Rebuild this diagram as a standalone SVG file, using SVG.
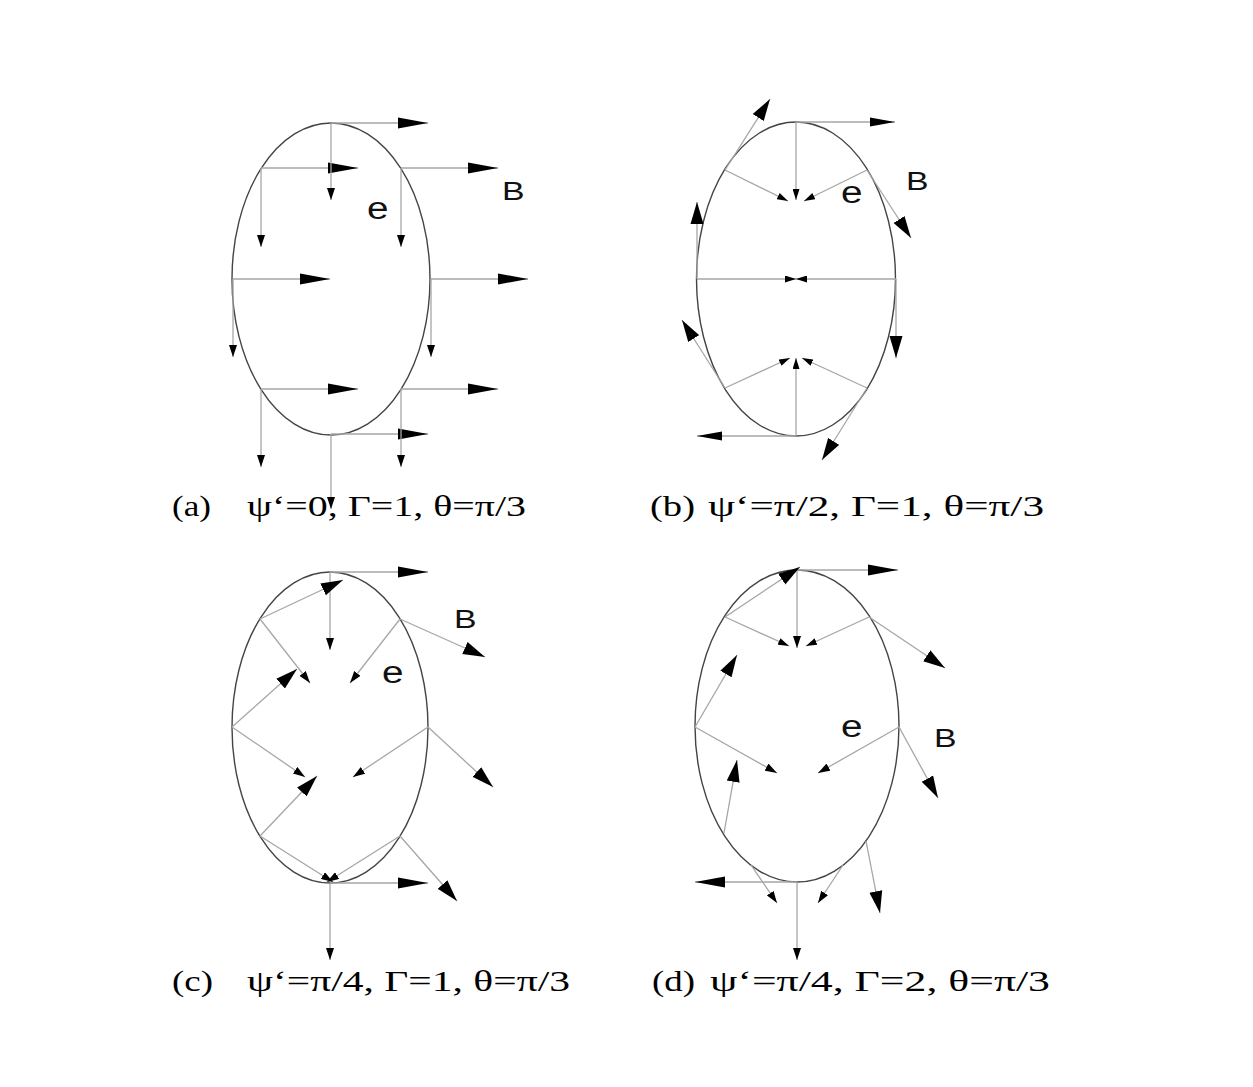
<svg xmlns="http://www.w3.org/2000/svg" width="1253" height="1087" viewBox="0 0 1253 1087">
<style>
.ell{fill:none;stroke:#444;stroke-width:1.4}
.s{stroke:#a6a6a6;stroke-width:1.3;fill:none}
.b{marker-end:url(#big)}
.m{marker-end:url(#med)}
.w{marker-end:url(#wide)}
.sm{marker-end:url(#small)}
.t{marker-end:url(#tiny)}
.lab{font-family:"Liberation Sans",Arial,sans-serif;fill:#111}
.cap{font-family:"Liberation Serif","Times New Roman",serif;font-size:29px;fill:#000}
</style>
<defs>
<marker id="big" markerUnits="userSpaceOnUse" markerWidth="30" markerHeight="12" viewBox="0 0 30 12" refX="30" refY="6" orient="auto"><path d="M0,0.5 L30,6 L0,11.5 Z" fill="#000"/></marker>
<marker id="med" markerUnits="userSpaceOnUse" markerWidth="25" markerHeight="10" viewBox="0 0 25 10" refX="25" refY="5" orient="auto"><path d="M0,0.5 L25,5 L0,9.5 Z" fill="#000"/></marker>
<marker id="wide" markerUnits="userSpaceOnUse" markerWidth="22" markerHeight="14" viewBox="0 0 22 14" refX="22" refY="7" orient="auto"><path d="M0,0.5 L22,7 L0,13.5 Z" fill="#000"/></marker>
<marker id="small" markerUnits="userSpaceOnUse" markerWidth="12" markerHeight="8" viewBox="0 0 12 8" refX="12" refY="4" orient="auto"><path d="M0,0 L12,4 L0,8 Z" fill="#000"/></marker>
<marker id="tiny" markerUnits="userSpaceOnUse" markerWidth="11" markerHeight="7" viewBox="0 0 11 7" refX="11" refY="3.5" orient="auto"><path d="M0,0 L11,3.5 L0,7 Z" fill="#000"/></marker>
</defs>
<rect width="1253" height="1087" fill="#fff"/>

<!-- Panel (a) -->
<g id="panel-a">
<g id="a-ellipse"><ellipse class="ell" cx="331" cy="279" rx="99" ry="156"/></g>
<g id="a-connectors">
<line class="s b" x1="331" y1="123" x2="428" y2="123"/>
<line class="s b" x1="261" y1="168" x2="358" y2="168"/>
<line class="s b" x1="401" y1="168" x2="498" y2="168"/>
<line class="s b" x1="233" y1="279" x2="330" y2="279"/>
<line class="s b" x1="431" y1="279" x2="528" y2="279"/>
<line class="s b" x1="261" y1="389" x2="358" y2="389"/>
<line class="s b" x1="401" y1="389" x2="498" y2="389"/>
<line class="s b" x1="331" y1="434" x2="428" y2="434"/>
<line class="s sm" x1="331" y1="123" x2="331" y2="200"/>
<line class="s sm" x1="261" y1="168" x2="261" y2="247"/>
<line class="s sm" x1="401" y1="168" x2="401" y2="247"/>
<line class="s sm" x1="233" y1="279" x2="233" y2="357"/>
<line class="s sm" x1="431" y1="279" x2="431" y2="357"/>
<line class="s sm" x1="261" y1="389" x2="261" y2="467"/>
<line class="s sm" x1="401" y1="389" x2="401" y2="467"/>
<line class="s sm" x1="331" y1="434" x2="331" y2="509"/>
</g>
<g id="a-labels">
<text class="lab" font-size="26" transform="translate(502,200) scale(1.3,1)">B</text>
<text class="lab" font-size="31" transform="translate(367,219) scale(1.25,1)">e</text>
<text class="cap" x="172" y="516" textLength="39" lengthAdjust="spacingAndGlyphs">(a)</text>
<text class="cap" x="247" y="516" textLength="279" lengthAdjust="spacingAndGlyphs">ψ‘=0,  Γ=1,  θ=π/3</text>
</g>
</g>

<!-- Panel (b) -->
<g id="panel-b">
<g id="b-ellipse"><ellipse class="ell" cx="796" cy="279" rx="99.5" ry="157"/></g>
<g id="b-connectors">
<line class="s m" x1="796" y1="122" x2="895" y2="122"/>
<line class="s t" x1="796" y1="122" x2="796" y2="200"/>
<line class="s t" x1="725" y1="170" x2="788" y2="201"/>
<line class="s t" x1="867" y1="170" x2="804" y2="201"/>
<line class="s w" x1="725" y1="170" x2="770" y2="99"/>
<line class="s w" x1="867" y1="170" x2="911" y2="238"/>
<line class="s w" x1="697" y1="279" x2="697" y2="202"/>
<line class="s w" x1="896" y1="279" x2="896" y2="358"/>
<line class="s t" x1="697" y1="279" x2="796" y2="279"/>
<line class="s t" x1="896" y1="279" x2="796" y2="279"/>
<line class="s w" x1="725" y1="388" x2="682" y2="320"/>
<line class="s w" x1="867" y1="388" x2="822" y2="460"/>
<line class="s m" x1="796" y1="436" x2="697" y2="436"/>
<line class="s t" x1="725" y1="388" x2="790" y2="358"/>
<line class="s t" x1="867" y1="388" x2="802" y2="358"/>
<line class="s t" x1="796" y1="436" x2="796" y2="358"/>
</g>
<g id="b-labels">
<text class="lab" font-size="26" transform="translate(906,190) scale(1.3,1)">B</text>
<text class="lab" font-size="31" transform="translate(841,203) scale(1.25,1)">e</text>
<text class="cap" x="650" y="516" textLength="45" lengthAdjust="spacingAndGlyphs">(b)</text>
<text class="cap" x="708" y="516" textLength="336" lengthAdjust="spacingAndGlyphs">ψ‘=π/2,  Γ=1,  θ=π/3</text>
</g>
</g>

<!-- Panel (c) -->
<g id="panel-c">
<g id="c-ellipse"><ellipse class="ell" cx="330" cy="727.5" rx="98" ry="155.5"/></g>
<g id="c-connectors">
<line class="s b" x1="330" y1="572" x2="428" y2="572"/>
<line class="s sm" x1="330" y1="572" x2="330" y2="650"/>
<line class="s w" x1="260" y1="619" x2="343" y2="580"/>
<line class="s sm" x1="260" y1="619" x2="310" y2="683"/>
<line class="s sm" x1="400" y1="619" x2="350" y2="683"/>
<line class="s w" x1="400" y1="619" x2="485" y2="657"/>
<line class="s w" x1="232" y1="727" x2="297" y2="669"/>
<line class="s sm" x1="232" y1="727" x2="305" y2="777"/>
<line class="s sm" x1="428" y1="727" x2="353" y2="777"/>
<line class="s w" x1="428" y1="727" x2="493" y2="787"/>
<line class="s w" x1="260" y1="836" x2="317" y2="776"/>
<line class="s sm" x1="260" y1="836" x2="333" y2="882"/>
<line class="s sm" x1="400" y1="836" x2="327" y2="882"/>
<line class="s w" x1="400" y1="836" x2="457" y2="901"/>
<line class="s b" x1="330" y1="883" x2="428" y2="883"/>
<line class="s sm" x1="330" y1="883" x2="330" y2="960"/>
</g>
<g id="c-labels">
<text class="lab" font-size="26" transform="translate(454,628) scale(1.3,1)">B</text>
<text class="lab" font-size="31" transform="translate(382,683) scale(1.25,1)">e</text>
<text class="cap" x="172" y="991" textLength="41" lengthAdjust="spacingAndGlyphs">(c)</text>
<text class="cap" x="247" y="991" textLength="323" lengthAdjust="spacingAndGlyphs">ψ‘=π/4,  Γ=1,  θ=π/3</text>
</g>
</g>

<!-- Panel (d) -->
<g id="panel-d">
<g id="d-ellipse"><ellipse class="ell" cx="797" cy="726" rx="102" ry="156"/></g>
<g id="d-connectors">
<line class="s b" x1="797" y1="570" x2="898" y2="570"/>
<line class="s sm" x1="797" y1="570" x2="797" y2="648"/>
<line class="s w" x1="725" y1="617" x2="800" y2="567"/>
<line class="s t" x1="725" y1="617" x2="789" y2="646"/>
<line class="s t" x1="869" y1="617" x2="806" y2="646"/>
<line class="s w" x1="869" y1="617" x2="945" y2="668"/>
<line class="s w" x1="695" y1="727" x2="737" y2="655"/>
<line class="s sm" x1="695" y1="727" x2="777" y2="773"/>
<line class="s sm" x1="899" y1="727" x2="818" y2="773"/>
<line class="s w" x1="899" y1="727" x2="938" y2="798"/>
<line class="s w" x1="724" y1="833" x2="737" y2="760"/>
<line class="s sm" x1="751" y1="865" x2="777" y2="903"/>
<line class="s sm" x1="843" y1="865" x2="818" y2="903"/>
<line class="s w" x1="866" y1="841" x2="880" y2="913"/>
<line class="s b" x1="797" y1="882" x2="695" y2="882"/>
<line class="s sm" x1="797" y1="882" x2="797" y2="960"/>
</g>
<g id="d-labels">
<text class="lab" font-size="26" transform="translate(934,747) scale(1.3,1)">B</text>
<text class="lab" font-size="31" transform="translate(841,737) scale(1.25,1)">e</text>
<text class="cap" x="652" y="991" textLength="43" lengthAdjust="spacingAndGlyphs">(d)</text>
<text class="cap" x="710" y="991" textLength="340" lengthAdjust="spacingAndGlyphs">ψ‘=π/4,  Γ=2,  θ=π/3</text>
</g>
</g>
</svg>
